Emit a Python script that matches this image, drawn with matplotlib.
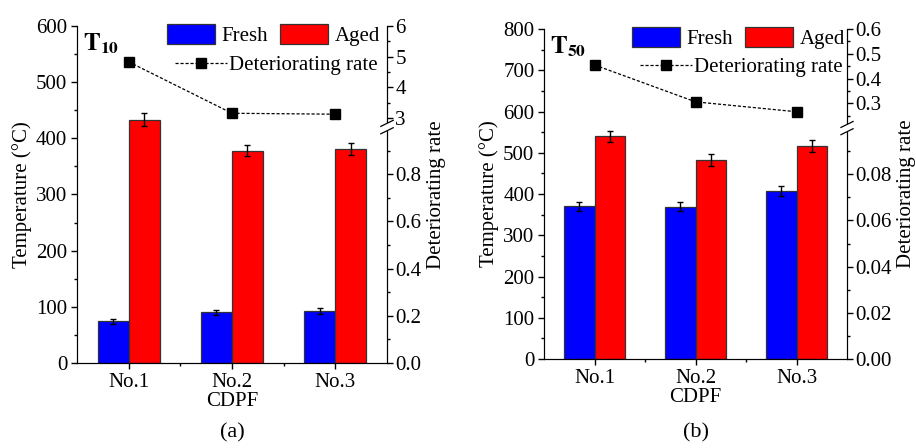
import numpy as np
import matplotlib
matplotlib.use('Agg')
import matplotlib.pyplot as plt
from matplotlib.patches import Rectangle
from matplotlib.ticker import FixedLocator, MultipleLocator

plt.rcParams['font.family'] = ['Liberation Serif', 'DejaVu Serif']
plt.rcParams['mathtext.fontset'] = 'stix'
plt.rcParams['font.size'] = 15

categories = ['No.1', 'No.2', 'No.3']

fresh_a = [74, 90, 92]
fresh_a_err = [5, 5, 5]
aged_a = [433, 378, 381]
aged_a_err = [12, 10, 11]
rate_a = [4.83, 3.15, 3.12]

fresh_b = [370, 369, 407]
fresh_b_err = [11, 11, 12]
aged_b = [540, 482, 516]
aged_b_err = [14, 14, 14]
rate_b = [0.455, 0.306, 0.266]


def broken_scale(lo_top, hi_bot, hi_top, frac=0.7):
    # piecewise linear: [0, lo_top] -> [0, frac], [hi_bot, hi_top] -> [frac, 1]
    def fwd(v):
        v = np.asarray(v, dtype=float)
        return np.where(v <= lo_top, v / lo_top * frac,
                        np.where(v >= hi_bot,
                                 frac + (v - hi_bot) / (hi_top - hi_bot) * (1 - frac),
                                 frac))

    def inv(y):
        y = np.asarray(y, dtype=float)
        return np.where(y <= frac, y / frac * lo_top,
                        hi_bot + (y - frac) / (1 - frac) * (hi_top - hi_bot))
    return fwd, inv


def panel(rect, fresh, fresh_err, aged, aged_err, rate, ymax, ystep,
          brk, rmajor, rminor, rfmt, tag, letter):
    ax = fig.add_axes(rect)
    x = np.arange(1, len(categories) + 1)
    w = 0.3
    ekw = dict(elinewidth=1, capsize=2.5, capthick=1, ecolor='black')
    b1 = ax.bar(x - w / 2, fresh, w, yerr=fresh_err, color='#0000ff',
                edgecolor='#333333', linewidth=0.9, error_kw=ekw, label='Fresh')
    b2 = ax.bar(x + w / 2, aged, w, yerr=aged_err, color='#ff0000',
                edgecolor='#333333', linewidth=0.9, error_kw=ekw, label='Aged')
    ax.set_xlim(0.5, 3.5)
    ax.set_ylim(0, ymax)
    ax.set_xticks(x)
    ax.set_xticklabels(categories)
    ax.xaxis.set_minor_locator(FixedLocator([1.5, 2.5]))
    ax.yaxis.set_major_locator(MultipleLocator(ystep))
    ax.yaxis.set_minor_locator(MultipleLocator(ystep / 2))
    ax.spines['top'].set_visible(False)
    ax.tick_params(which='major', direction='out', length=4, width=1, pad=3)
    ax.tick_params(which='minor', direction='out', length=2.5, width=1)
    ax.set_xlabel('CDPF', labelpad=0)
    ax.set_ylabel('Temperature (°C)', labelpad=3)

    ax2 = ax.twinx()
    fwd, inv = broken_scale(*brk)
    ax2.set_yscale('function', functions=(fwd, inv))
    ax2.set_ylim(0, brk[2])
    ax2.spines['top'].set_visible(False)
    ln, = ax2.plot(x, rate, color='black', lw=0.9, ls=(0, (2.5, 1.5)),
                   marker='s', ms=6.5, label='Deteriorating rate')
    ax2.yaxis.set_major_locator(FixedLocator(rmajor))
    ax2.yaxis.set_minor_locator(FixedLocator(rminor))
    ax2.set_yticklabels([rfmt(v) for v in rmajor])
    ax2.tick_params(which='major', direction='out', length=4, width=1, pad=2)
    ax2.tick_params(which='minor', direction='out', length=2.5, width=1)
    ax2.set_ylabel('Deteriorating rate', labelpad=4)

    # axis break marks on the right spine
    g = 0.011
    ax2.add_patch(Rectangle((0.98, 0.7 - g), 0.04, 2 * g, transform=ax2.transAxes,
                            facecolor='white', edgecolor='none', clip_on=False, zorder=5))
    for yy in (0.7 - g, 0.7 + g):
        ax2.plot([0.98, 1.02], [yy - 0.009, yy + 0.009], color='black', lw=0.9,
                 transform=ax2.transAxes, clip_on=False, zorder=6)

    leg1 = ax2.legend(handles=[b1, b2], loc='upper left', bbox_to_anchor=(0.29, 1.005),
                      ncol=2, frameon=False, borderpad=0, borderaxespad=0,
                      handlelength=2.3, handleheight=1.05, handletextpad=0.3,
                      columnspacing=0.6)
    ax2.add_artist(leg1)
    ax2.legend(handles=[ln], loc='upper left', bbox_to_anchor=(0.315, 0.913),
               frameon=False, borderpad=0, borderaxespad=0,
               handlelength=2.5, handletextpad=0.1)

    ax.text(0.02, 0.985, tag, transform=ax.transAxes, ha='left', va='top', fontsize=18)
    fig.text(rect[0] + rect[2] / 2, 0.012, letter, ha='center', va='bottom', fontsize=16)


fig = plt.figure(figsize=(9.16, 4.48), dpi=100)

panel([0.084, 0.19, 0.3385, 0.752], fresh_a, fresh_a_err, aged_a, aged_a_err, rate_a,
      600, 100, (1.0, 2.7, 6.0),
      [0, 0.2, 0.4, 0.6, 0.8, 3, 4, 5, 6],
      [0.1, 0.3, 0.5, 0.7, 0.9, 3.5, 4.5, 5.5],
      lambda v: f'{v:.1f}' if v < 1 else f'{v:.0f}',
      r'$\mathbf{T_{10}}$', '(a)')

panel([0.594, 0.1987, 0.3307, 0.7363], fresh_b, fresh_b_err, aged_b, aged_b_err, rate_b,
      800, 100, (0.1, 0.2, 0.6),
      [0, 0.02, 0.04, 0.06, 0.08, 0.3, 0.4, 0.5, 0.6],
      [0.01, 0.03, 0.05, 0.07, 0.09, 0.25, 0.35, 0.45, 0.55],
      lambda v: f'{v:.2f}' if v < 0.1 else f'{v:.1f}',
      r'$\mathbf{T_{50}}$', '(b)')

fig.savefig('out.png', dpi=100)
